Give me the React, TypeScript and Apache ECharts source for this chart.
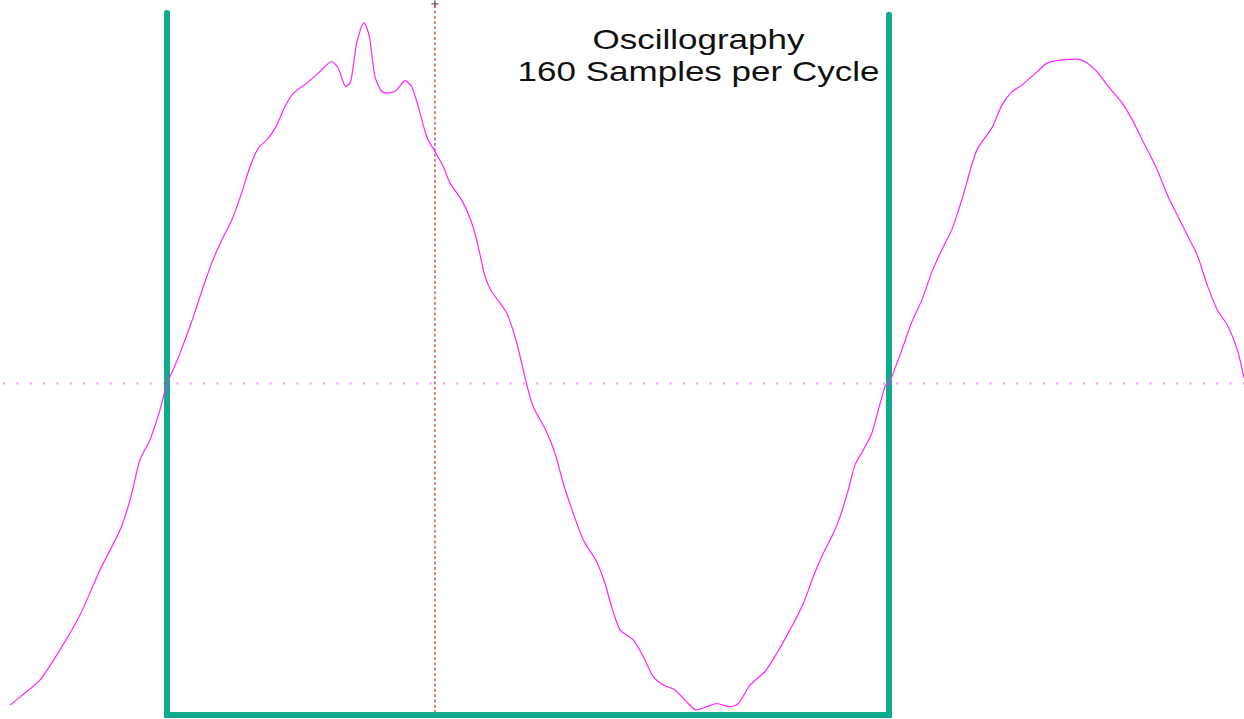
import React, { useEffect, useRef } from "react";
import * as echarts from "echarts";

// Phase angle (electrical degrees, 0 = start of the highlighted cycle)
const angleDeg = [
  -78.3, -73.3, -63.3, -53.4, -43.4, -33.4, -23.4, -18.4, -13.5, -8.5, -3.5, 0,
  2.3, 6.5, 12.3, 18.1, 22.3, 27.3, 32.3, 37.2, 41.4, 45.5, 50.5, 54.7, 58.8, 63.0,
  69.7, 76.3, 82.1, 85.4, 89.2, 91.6, 94.6, 98.2, 100.9, 103.7, 107.1, 110.3, 114.5,
  118.7, 122.0, 125.3, 129.5, 133.6, 137.8, 141.1, 146.9, 151.1, 154.4, 158.6, 161.9,
  169.4, 174.4, 179.3, 182.6, 189.3, 193.5, 197.6, 202.6, 207.6, 214.3, 218.4, 221.7,
  225.9, 232.5, 237.5, 242.5, 247.5, 253.3, 259.1, 263.8, 269.1, 274.1, 280.7, 284.9,
  290.7, 298.2, 304.0, 310.6, 317.3, 322.2, 327.2, 332.2, 335.6, 339.7, 343.0, 347.2,
  351.4, 354.7, 358.3, 360, 366.4, 371.4, 376.4, 381.4, 386.3, 391.3, 396.3, 403.8,
  411.3, 416.3, 421.3, 426.3, 433.8, 438.8, 446.3, 453.8, 458.8, 463.8, 468.8, 476.3,
  481.3, 486.3, 493.8, 498.8, 503.7, 508.7, 513.7, 518.7, 523.7, 528.7, 533.7, 537.0,
];

// Instantaneous value (arbitrary units)
const current = [
  -80.4, -78.4, -74.1, -66.6, -57.9, -46.6, -36.6, -29.1, -19.1, -14.1, -6.6, 0,
  2.55, 7.6, 15.5, 24.2, 30.1, 35.9, 40.9, 47.6, 54.2, 58.8, 61.3, 64.6, 69.2, 72.6,
  75.1, 78.0, 80.5, 78.8, 74.2, 75.5, 85.1, 90.2, 86.7, 76.7, 73.0, 72.6, 73.4,
  75.7, 74.2, 69.2, 61.7, 58.0, 54.2, 50.1, 45.9, 41.3, 35.9, 26.7, 23.0,
  17.6, 10.1, -0.1, -5.8, -12.1, -17.5, -25.0, -32.5, -39.1, -44.6, -50.0, -55.8,
  -61.6, -64.1, -68.3, -73.3, -75.4, -76.6, -79.6, -81.6, -80.8, -80.0, -80.8, -80.0,
  -75.4, -72.0, -67.5, -61.6, -55.0, -48.3, -42.5, -37.5, -33.3, -26.6, -20.4, -16.6,
  -12.5, -6.6, -0.4, 0, 8.4, 15.4, 20.9, 27.9, 33.4, 38.4, 45.9, 58.4,
  63.9, 69.6, 72.9, 74.6, 77.9, 80.1, 80.9, 81.1, 80.1, 77.9, 74.6, 70.1,
  65.9, 60.9, 53.4, 47.1, 42.1, 37.1, 32.1, 24.6, 18.4, 14.6, 8.4, 1.4,
];

const cycleStartDeg = 0;
const cycleEndDeg = 360;
const cursorDeg = 133.6;
const bracketTopLeft = 92.6;
const bracketTopRight = 92.2;
const bracketBottom = -82.9;
const cursorTop = 94.6;
const cursorBottom = -82.1;
const xRange = [-83.27, 537.01];
const yRange = [-83.875, 95.875];
const titleLines = ["Oscillography", "160 Samples per Cycle"];

export default function App() {
  const ref = useRef<HTMLDivElement>(null);

  useEffect(() => {
    document.body.style.margin = "0";
    if (!ref.current) return;
    const chart = echarts.init(ref.current, undefined, { renderer: "svg" });
    const wave = angleDeg.map((a, i) => [a, current[i]]);
    const titleStyle = {
      fontSize: 28,
      fontFamily: "'Liberation Sans', Arial, sans-serif",
      fill: "#111111",
      align: "center",
      verticalAlign: "middle",
    };
    chart.setOption({
      animation: false,
      backgroundColor: "#ffffff",
      grid: { left: 0, right: 0, top: 0, bottom: 0 },
      xAxis: {
        type: "value",
        min: xRange[0],
        max: xRange[1],
        show: false,
        splitLine: { show: false },
      },
      yAxis: {
        type: "value",
        min: yRange[0],
        max: yRange[1],
        show: false,
        splitLine: { show: false },
      },
      series: [
        {
          name: "zero",
          type: "line",
          symbol: "none",
          silent: true,
          data: [
            [xRange[0], 0],
            [xRange[1], 0],
          ],
          lineStyle: { color: "#ff77ff", width: 2, type: [1.5, 11.83], dashOffset: 10 },
        },
        {
          name: "bracket",
          type: "line",
          symbol: "none",
          silent: true,
          data: [
            [cycleStartDeg, bracketTopLeft],
            [cycleStartDeg, bracketBottom],
            [cycleEndDeg, bracketBottom],
            [cycleEndDeg, bracketTopRight],
          ],
          lineStyle: { color: "#0fab8c", width: 6, cap: "round", join: "miter" },
        },
        {
          name: "cursor",
          type: "line",
          symbol: "none",
          silent: true,
          data: [
            [cursorDeg, cursorTop],
            [cursorDeg, cursorBottom],
          ],
          lineStyle: { color: "#d43030", width: 1.2, type: [3, 2.3] },
        },
        {
          name: "cursorMark",
          type: "scatter",
          silent: true,
          symbol: "path://M4,0h2v10h-2zM0,4h10v2h-10z",
          symbolSize: 7,
          itemStyle: { color: "#333355" },
          data: [[cursorDeg, cursorTop + 0.3]],
        },
        {
          name: "signal",
          type: "line",
          symbol: "none",
          smooth: 0.25,
          data: wave,
          lineStyle: { color: "#ff22ff", width: 1.2 },
        },
      ],
      graphic: [
        {
          type: "text",
          x: 698.5,
          y: 39,
          scaleX: 1.25,
          style: { ...titleStyle, text: titleLines[0] },
        },
        {
          type: "text",
          x: 698.5,
          y: 71,
          scaleX: 1.25,
          style: { ...titleStyle, text: titleLines[1] },
        },
      ],
    });
    return () => chart.dispose();
  }, []);

  return <div ref={ref} style={{ width: 1244, height: 719 }} />;
}
